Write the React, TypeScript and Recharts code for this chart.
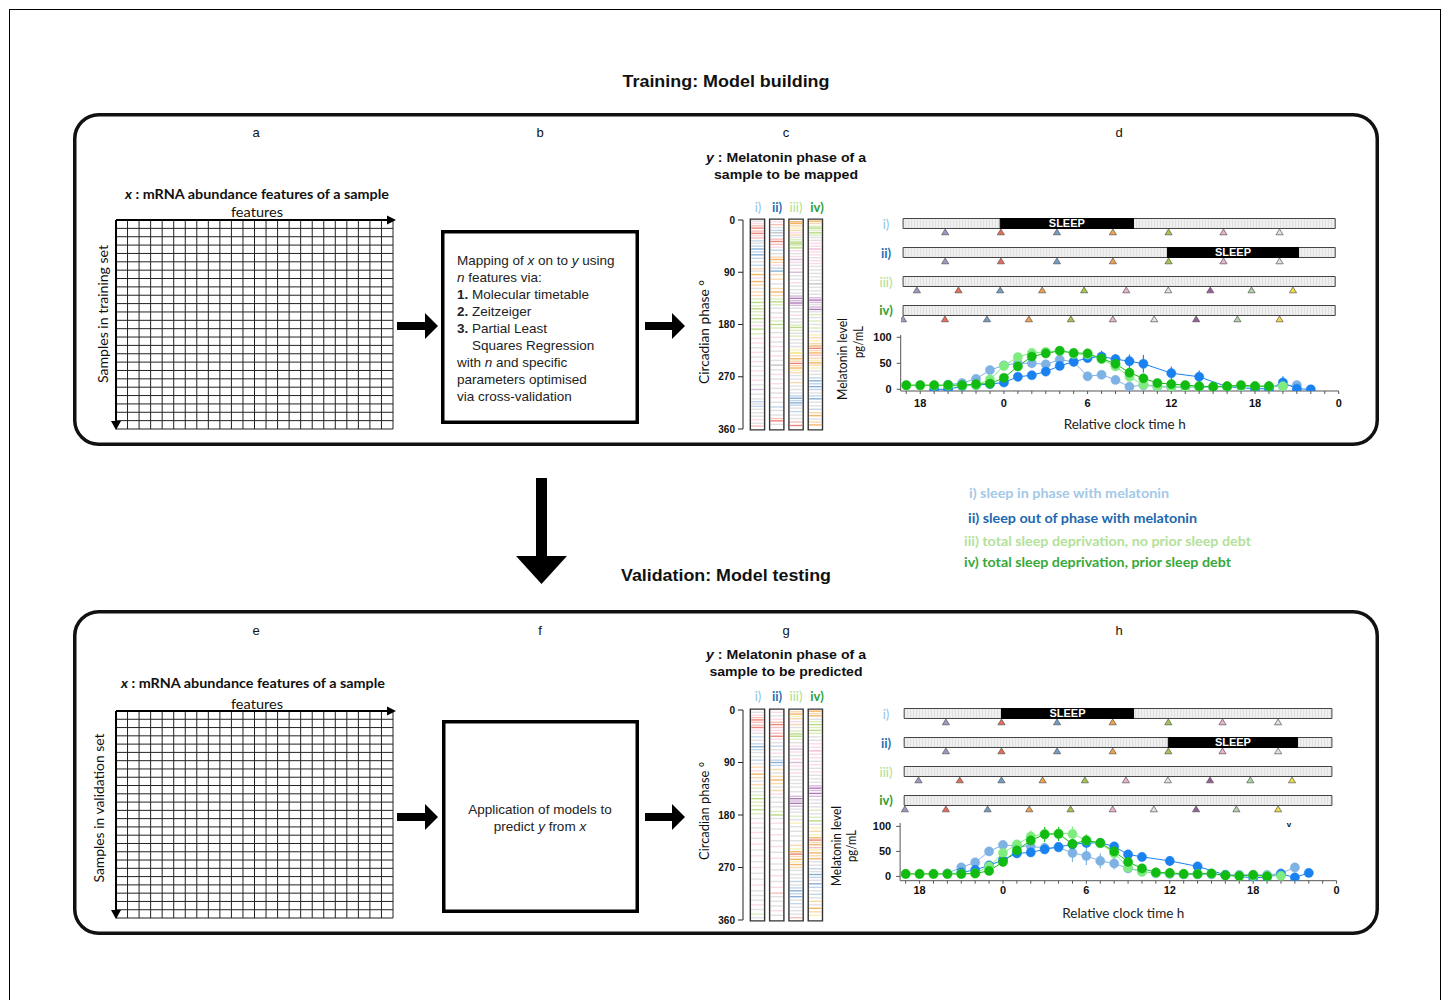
import React from 'react';
import { ComposedChart, Line, XAxis, YAxis, ErrorBar, Scatter, ReferenceArea, ReferenceLine, Label } from 'recharts';

const SANS = '"Liberation Sans", Arial, Helvetica, sans-serif';
const CAL = 'Lato, "Open Sans", sans-serif';

// ---------------- melatonin profiles (relative clock time, h) ----------------
const hourTicks = [-7, -6, -5, -4, -3, -2, -1, 0, 1, 2, 3, 4, 5, 6, 7, 8, 9, 10, 11, 12, 13, 14, 15, 16, 17, 18, 19, 20, 21, 22, 23, 24];
const profileHours = [-7, -6, -5, -4, -3, -2, -1, 0, 1, 2, 3, 4, 5, 6, 7, 8, 9, 10, 11, 12, 13, 14, 15, 16, 17, 18, 19, 20, 21, 22];
const melTicks = [0, 50, 100];

// training (d)
const dInPhase = [null, null, null, 9, 12, 20, 37, 46, 50, 50, 48, 57, 53, 25, 28, 18, 5, 8, 5, 4, 4, 4, 4, 5, 5, 5, 5, 6, 8, null];
const dInPhaseErr = [0, 0, 0, 3, 4, 4, 7, 5, 5, 6, 6, 6, 10, 6, 6, 4, 3, 3, 2, 2, 2, 2, 2, 2, 2, 2, 2, 3, 3, 0];
const dOutPhase = [null, null, 0, 0, 6, 8, 10, 13, 24, 27, 34, 45, 53, 60, 63, 58, 54, 49, null, 31, null, 24, null, 5, null, 1, 1, 13, 1, 0];
const dOutPhaseErr = [0, 0, 2, 2, 3, 3, 3, 4, 5, 6, 6, 6, 8, 8, 11, 10, 13, 17, 0, 13, 0, 12, 0, 3, 0, 2, 2, 12, 3, 2];
const dNoDebt = [7, 7, 7, 7, 7, 8, 19, 45, 62, 70, 72, 74, 68, 67, 58, 44, 24, 9, 6, 5, 5, 5, 5, 5, 6, 6, 6, 6, null, null];
const dNoDebtErr = [2, 2, 2, 2, 2, 2, 3, 4, 4, 4, 4, 4, 4, 4, 4, 4, 3, 2, 2, 2, 2, 2, 2, 2, 2, 2, 2, 2, 0, 0];
const dDebt = [8, 8, 8, 8, 8, 10, 11, 22, 44, 63, 69, 74, 70, 69, 59, 49, 32, 21, 12, 10, 8, 6, 5, 6, 8, 6, 6, null, null, null];
const dDebtErr = [2, 2, 2, 2, 2, 2, 3, 4, 5, 5, 5, 6, 5, 5, 6, 5, 4, 3, 2, 2, 2, 2, 2, 2, 2, 2, 2, 0, 0, 0];

// validation (h)
const hInPhase = [null, null, null, 6, 18, 28, 50, 63, 61, 60, 57, 58, 47, 41, 31, 26, 16, 10, 6, 5, 4, 4, 4, 3, 3, 3, 3, 6, 18, null];
const hInPhaseErr = [0, 0, 0, 3, 5, 5, 6, 6, 8, 8, 10, 10, 18, 18, 15, 12, 8, 5, 3, 2, 2, 2, 2, 2, 2, 2, 2, 4, 5, 0];
const hOutPhase = [null, null, null, null, 8, 13, 22, 33, 46, 48, 54, 59, 64, 67, 67, 60, 44, 39, null, 31, null, 20, null, 3, null, -3, -1, 5, -2, 7];
const hOutPhaseErr = [0, 0, 0, 0, 3, 4, 5, 6, 7, 7, 7, 8, 8, 8, 8, 8, 8, 8, 0, 10, 0, 7, 0, 3, 0, 3, 3, 3, 3, 3];
const hNoDebt = [5, 5, 5, 5, 5, 6, 20, 47, 64, 80, 85, 86, 85, 72, 66, 46, 18, 9, 7, 6, 5, 5, 5, 2, 1, 1, 1, 1, null, null];
const hNoDebtErr = [2, 2, 2, 2, 2, 2, 4, 5, 6, 12, 10, 10, 15, 8, 8, 6, 4, 3, 2, 2, 2, 2, 2, 2, 2, 2, 2, 2, 0, 0];
const hDebt = [5, 5, 5, 5, 5, 6, 11, 29, 52, 72, 84, 85, 65, 72, 67, 50, 29, 16, 8, 7, 5, 5, 6, 2, 1, 3, 0, null, null, null];
const hDebtErr = [2, 2, 2, 2, 2, 2, 3, 6, 8, 8, 15, 14, 8, 12, 10, 6, 4, 3, 2, 2, 2, 2, 2, 2, 2, 2, 2, 0, 0, 0];

const C_IN = '#7fb2e4';
const C_OUT = '#1a82f0';
const C_NODEBT = '#80ec80';
const C_DEBT = '#12bb12';

// ---------------- sleep / sampling schedules ----------------
const dRowSpan = [-7.25, 23.73];
const dSleepWindows = [[-0.29, 9.27], [11.7, 21.1], null, null];
const dSampleTimes = [
  [-4.23, -0.24, 3.78, 7.79, 11.78, 15.72, 19.74],
  [-4.23, -0.24, 3.78, 7.79, 11.78, 15.72, 19.74],
  [-6.26, -3.28, -0.29, 2.72, 5.73, 8.75, 11.76, 14.77, 17.73, 20.7],
  [-7.26, -4.25, -1.24, 1.77, 4.78, 7.79, 10.75, 13.76, 16.72, 19.74],
];
const hRowSpan = [-7.1, 23.67];
const hSleepWindows = [[-0.1, 9.4], [11.9, 21.2], null, null];
const hSampleTimes = [
  [-4.1, -0.1, 3.9, 7.9, 11.9, 15.8, 19.8],
  [-4.1, -0.1, 3.9, 7.9, 11.9, 15.8, 19.8],
  [-6.07, -3.1, -0.1, 2.86, 5.9, 8.85, 11.87, 14.9, 17.8, 20.8],
  [-7.05, -4.1, -1.1, 1.9, 4.87, 7.9, 10.86, 13.9, 16.8, 19.8],
];
const sampleColorKeys = [
  ['lav', 'red', 'blu', 'ora', 'grn', 'pnk', 'gry'],
  ['lav', 'red', 'blu', 'ora', 'grn', 'pnk', 'gry'],
  ['lav', 'red', 'blu', 'ora', 'grn', 'pnk', 'gry', 'pur', 'sag', 'yel'],
  ['lav', 'red', 'blu', 'ora', 'grn', 'pnk', 'gry', 'pur', 'sag', 'yel'],
];
const TRI_COLORS = {
  lav: '#9c97c4', red: '#ea6a58', blu: '#6f9dc8', ora: '#f4a24a', grn: '#a6c84a',
  pnk: '#eeb0d0', gry: '#e2e2e2', pur: '#9a5aa0', sag: '#b0d4a8', yel: '#f2dc40',
};

// ---------------- phase stripes (degrees) ----------------
const phaseTicks = [0, 90, 180, 270, 360];
const cStripesI = [[2,'k'],[6,'p'],[10,'r'],[14,'R'],[19,'r'],[23,'R'],[27,'p'],[31,'r'],[36,'b'],[40,'k'],[45,'b'],[50,'B'],[55,'b'],[60,'B'],[66,'b'],[72,'k'],[78,'b'],[84,'o'],[88,'k'],[94,'O'],[100,'p'],[106,'O'],[112,'o'],[118,'k'],[124,'o'],[130,'o'],[136,'g'],[142,'G'],[148,'g'],[153,'G'],[158,'g'],[164,'g'],[170,'G'],[176,'g'],[182,'p'],[188,'G'],[196,'g'],[204,'p'],[212,'p'],[220,'k'],[228,'p'],[236,'k'],[244,'p'],[252,'k'],[260,'p'],[268,'k'],[276,'p'],[284,'k'],[292,'u'],[300,'k'],[308,'k'],[313,'b'],[317,'k'],[321,'b'],[326,'k'],[332,'k'],[338,'k'],[344,'p'],[350,'k'],[355,'r']];
const cStripesII = [[3,'p'],[8,'r'],[13,'k'],[18,'b'],[22,'K'],[27,'b'],[33,'r'],[37,'R'],[42,'r'],[47,'p'],[52,'b'],[58,'k'],[64,'o'],[68,'O'],[73,'o'],[78,'p'],[83,'b'],[88,'B'],[94,'o'],[102,'o'],[110,'k'],[118,'o'],[124,'O'],[130,'o'],[136,'g'],[141,'G'],[146,'g'],[152,'k'],[160,'k'],[168,'p'],[174,'g'],[180,'G'],[186,'g'],[194,'k'],[202,'p'],[210,'k'],[218,'p'],[226,'k'],[234,'p'],[242,'k'],[250,'K'],[258,'k'],[266,'p'],[274,'k'],[282,'p'],[290,'k'],[298,'k'],[306,'p'],[314,'k'],[322,'b'],[328,'k'],[336,'k'],[342,'r'],[346,'R'],[352,'k']];
const cStripesIII = [[3,'O'],[6,'O'],[10,'o'],[14,'y'],[18,'o'],[22,'p'],[26,'o'],[30,'k'],[34,'g'],[38,'G'],[41,'G'],[44,'g'],[48,'G'],[53,'p'],[58,'k'],[63,'p'],[68,'u'],[73,'p'],[78,'k'],[84,'p'],[90,'u'],[96,'k'],[102,'k'],[108,'p'],[114,'k'],[120,'k'],[126,'k'],[131,'u'],[135,'U'],[139,'u'],[143,'U'],[147,'u'],[152,'k'],[158,'k'],[164,'p'],[170,'k'],[176,'k'],[181,'g'],[185,'G'],[190,'g'],[195,'k'],[200,'g'],[206,'k'],[212,'k'],[218,'k'],[224,'y'],[229,'Y'],[234,'o'],[239,'O'],[243,'o'],[247,'R'],[251,'o'],[255,'O'],[259,'y'],[263,'o'],[268,'k'],[274,'k'],[280,'o'],[286,'k'],[292,'k'],[298,'k'],[303,'b'],[307,'B'],[311,'b'],[315,'B'],[319,'b'],[324,'k'],[330,'b'],[336,'k'],[342,'k'],[348,'r'],[354,'R']];
const cStripesIV = [[2,'O'],[6,'o'],[11,'g'],[14,'G'],[18,'g'],[22,'G'],[26,'g'],[30,'k'],[35,'k'],[40,'p'],[45,'p'],[50,'P'],[55,'p'],[60,'p'],[65,'k'],[70,'p'],[75,'p'],[80,'k'],[86,'k'],[92,'k'],[98,'k'],[104,'k'],[110,'K'],[116,'k'],[122,'k'],[128,'k'],[134,'u'],[138,'U'],[142,'u'],[146,'k'],[150,'u'],[154,'U'],[158,'k'],[163,'g'],[168,'k'],[174,'g'],[180,'k'],[186,'g'],[192,'k'],[198,'y'],[203,'o'],[208,'y'],[213,'o'],[217,'O'],[221,'R'],[225,'o'],[229,'O'],[233,'r'],[238,'o'],[242,'y'],[246,'O'],[250,'o'],[255,'y'],[260,'k'],[266,'k'],[272,'b'],[277,'B'],[282,'b'],[287,'B'],[292,'b'],[298,'k'],[303,'b'],[308,'B'],[314,'k'],[320,'k'],[326,'b'],[332,'o'],[337,'O'],[343,'k'],[348,'o'],[353,'O']];

const gStripesI = [[4,'k'],[9,'p'],[13,'r'],[17,'R'],[21,'r'],[26,'r'],[30,'R'],[35,'p'],[40,'k'],[46,'b'],[52,'k'],[58,'b'],[63,'B'],[68,'b'],[73,'k'],[80,'k'],[86,'b'],[92,'k'],[98,'o'],[104,'p'],[110,'O'],[116,'o'],[122,'k'],[128,'o'],[134,'g'],[140,'k'],[146,'g'],[152,'G'],[158,'g'],[164,'g'],[171,'G'],[178,'g'],[186,'k'],[194,'p'],[202,'k'],[210,'p'],[220,'k'],[230,'p'],[240,'k'],[250,'p'],[260,'k'],[270,'p'],[280,'k'],[290,'k'],[300,'p'],[310,'k'],[318,'k'],[326,'k'],[334,'p'],[342,'k'],[350,'g'],[356,'k']];
const gStripesII = [[4,'p'],[10,'k'],[16,'p'],[21,'r'],[25,'R'],[30,'r'],[35,'p'],[40,'r'],[45,'R'],[50,'p'],[56,'k'],[62,'b'],[68,'k'],[74,'p'],[80,'k'],[86,'b'],[90,'B'],[95,'b'],[102,'o'],[108,'k'],[114,'o'],[120,'O'],[126,'o'],[132,'k'],[138,'o'],[144,'p'],[150,'k'],[158,'k'],[166,'k'],[174,'g'],[180,'G'],[186,'k'],[194,'p'],[204,'k'],[214,'p'],[224,'k'],[234,'p'],[244,'k'],[254,'p'],[264,'k'],[274,'k'],[284,'p'],[294,'k'],[304,'p'],[314,'r'],[320,'k'],[328,'k'],[336,'k'],[344,'p'],[352,'k']];
const gStripesIII = [[3,'o'],[7,'O'],[11,'y'],[15,'o'],[20,'p'],[25,'o'],[30,'k'],[36,'g'],[41,'G'],[45,'G'],[50,'g'],[56,'k'],[62,'p'],[67,'u'],[72,'p'],[78,'k'],[84,'p'],[90,'u'],[96,'p'],[102,'k'],[108,'p'],[114,'k'],[120,'k'],[126,'k'],[132,'k'],[140,'k'],[148,'u'],[152,'U'],[156,'u'],[160,'U'],[165,'u'],[170,'k'],[175,'k'],[182,'g'],[188,'k'],[194,'y'],[200,'k'],[208,'k'],[216,'k'],[224,'k'],[232,'o'],[238,'y'],[243,'O'],[247,'R'],[251,'o'],[256,'O'],[260,'y'],[265,'O'],[270,'o'],[275,'k'],[282,'k'],[288,'k'],[294,'b'],[300,'k'],[305,'b'],[310,'B'],[315,'b'],[320,'B'],[326,'k'],[332,'b'],[338,'k'],[344,'k'],[350,'k'],[356,'r']];
const gStripesIV = [[2,'O'],[6,'o'],[10,'O'],[16,'k'],[20,'g'],[25,'G'],[30,'g'],[35,'G'],[40,'g'],[46,'k'],[52,'k'],[58,'p'],[64,'p'],[70,'P'],[76,'p'],[82,'p'],[88,'k'],[94,'p'],[100,'k'],[106,'p'],[112,'k'],[118,'k'],[124,'k'],[130,'u'],[134,'U'],[138,'u'],[143,'U'],[148,'u'],[154,'k'],[160,'k'],[166,'k'],[172,'g'],[178,'k'],[184,'g'],[190,'G'],[196,'k'],[202,'y'],[208,'o'],[214,'y'],[219,'O'],[223,'R'],[227,'o'],[231,'O'],[236,'r'],[240,'y'],[245,'O'],[250,'o'],[255,'O'],[260,'k'],[266,'k'],[272,'b'],[277,'k'],[282,'B'],[287,'b'],[292,'k'],[298,'B'],[304,'b'],[310,'k'],[316,'b'],[322,'k'],[328,'o'],[334,'k'],[340,'O'],[346,'o'],[352,'y']];

const STRIPE_COLORS = {
  r: '#e8675a', o: '#f4a340', b: '#6a9ccc', g: '#a6d264', p: '#f2a6c8', u: '#9a5aa8', k: '#b4b4bc', y: '#f2dc50',
};

// ---------------- feature matrix ----------------
const FEATURE_COUNT = 24;
const SAMPLE_COUNT = 25;
const featureTicks = Array.from({ length: FEATURE_COUNT + 1 }, (_, i) => i);
const sampleTicks = Array.from({ length: SAMPLE_COUNT + 1 }, (_, i) => i);

// ---------------- legend ----------------
const legendItems = [
  { label: 'i) sleep in phase with melatonin', color: '#a4c9e6', len: 200, x: 969, y: 493 },
  { label: 'ii) sleep out of phase with melatonin', color: '#2068b0', len: 229, x: 968, y: 518 },
  { label: 'iii) total sleep deprivation, no prior sleep debt', color: '#b3e19a', len: 287, x: 964, y: 541 },
  { label: 'iv) total sleep deprivation, prior sleep debt', color: '#37a83a', len: 267, x: 964, y: 562 },
];

function buildSeries(vals, errs) {
  const out = [];
  profileHours.forEach((h, i) => {
    if (vals[i] !== null && vals[i] !== undefined) out.push({ h, v: vals[i], e: errs[i] });
  });
  return out;
}

const hourFmt = (v) => (v % 6 === 0 ? String(((v % 24) + 24) % 24) : '');

function MelChart({ left, top, plotW, plotH, yAxisW, yDomain, series, tickMargin, labelOffset }) {
  const mt = 10, mr = 12, xh = 40;
  return (
    <div style={{ position: 'absolute', left, top }}>
      <ComposedChart width={yAxisW + plotW + mr} height={mt + plotH + xh} margin={{ top: mt, right: mr, bottom: 0, left: 0 }}>
        <XAxis
          type="number" dataKey="h" domain={[-7.4, 24]} allowDataOverflow ticks={hourTicks} interval={0}
          tickFormatter={hourFmt} height={xh} tickSize={3} tickMargin={tickMargin}
          axisLine={{ stroke: '#555' }} tickLine={{ stroke: '#555' }}
          tick={{ fontSize: 11, fontWeight: 700, fill: '#111', fontFamily: SANS }}
        >
          <Label value="Relative clock time h" position="insideBottom" offset={labelOffset} dx={5}
            style={{ fontSize: 13.5, fontFamily: CAL, fill: '#222' }} />
        </XAxis>
        <YAxis
          type="number" dataKey="v" domain={yDomain} allowDataOverflow ticks={melTicks} interval={0} width={yAxisW}
          tickSize={4} tickMargin={5} axisLine={{ stroke: '#555' }} tickLine={{ stroke: '#555' }}
          tick={{ fontSize: 11, fontWeight: 700, fill: '#111', fontFamily: SANS }}
        />
        {series.map((s) => (
          <Line key={s.name} name={s.name} data={s.data} dataKey="v" stroke={s.color} strokeWidth={1}
            dot={{ r: 4.6, fill: s.color, stroke: s.color, strokeWidth: 0.5 }} activeDot={false}
            isAnimationActive={false}>
            <ErrorBar dataKey="e" width={0} stroke={s.color} strokeWidth={1.2} direction="y" />
          </Line>
        ))}
      </ComposedChart>
    </div>
  );
}

const BAR_HALF = 0.172;
const TRI_OFF = 0.3;

function Tri(props) {
  const { cx, cy, payload } = props;
  if (cx == null || cy == null) return null;
  const c = TRI_COLORS[payload.k];
  return <polygon points={`${cx - 3.6},${cy + 2.6} ${cx + 3.6},${cy + 2.6} ${cx},${cy - 3.2}`} fill={c} stroke="#555" strokeWidth={0.7} />;
}

function ScheduleRows({ id, left, top, plotW, span, sleeps, times }) {
  const pts = [];
  times.forEach((row, r) => row.forEach((h, j) => pts.push({ h, y: r + 0.5 + TRI_OFF, k: sampleColorKeys[r][j] })));
  const pid = 'barHatch' + id;
  return (
    <div style={{ position: 'absolute', left: left - 5, top }}>
      <ComposedChart width={plotW + 10} height={116} margin={{ top: 0, right: 5, bottom: 0, left: 5 }}>
        <defs>
          <pattern id={pid} width={3} height={4} patternUnits="userSpaceOnUse">
            <rect width={3} height={4} fill="#efefef" />
            <line x1={0.5} y1={0} x2={0.5} y2={4} stroke="#e0e0e0" strokeWidth={1} />
          </pattern>
        </defs>
        <XAxis type="number" dataKey="h" domain={[-7.4, 24]} allowDataOverflow hide />
        <YAxis type="number" dataKey="y" domain={[0, 4]} allowDataOverflow reversed hide />
        {[0, 1, 2, 3].map((r) => (
          <ReferenceArea key={'bar' + r} x1={span[0]} x2={span[1]} y1={r + 0.5 - BAR_HALF} y2={r + 0.5 + BAR_HALF}
            fill={`url(#${pid})`} fillOpacity={1} stroke="#444" strokeWidth={1} ifOverflow="visible" />
        ))}
        {sleeps.map((s, r) => s && (
          <ReferenceArea key={'sl' + r} x1={s[0]} x2={s[1]} y1={r + 0.5 - BAR_HALF} y2={r + 0.5 + BAR_HALF}
            fill="#000" fillOpacity={1} stroke="#000" strokeWidth={1} ifOverflow="visible"
            label={{ value: 'SLEEP', position: 'center', fill: '#fff', fontSize: 11, fontWeight: 700, fontFamily: SANS }} />
        ))}
        <Scatter data={pts} dataKey="y" shape={Tri} isAnimationActive={false} />
      </ComposedChart>
    </div>
  );
}

function Stripe(props) {
  const { cx, cy, payload } = props;
  if (cx == null || cy == null) return null;
  const key = payload.k;
  const col = STRIPE_COLORS[key.toLowerCase()];
  const strong = key !== key.toLowerCase();
  return <line x1={cx - 6.3} x2={cx + 6.3} y1={cy} y2={cy} stroke={col} strokeOpacity={strong ? 0.8 : 0.42} strokeWidth={1.4} />;
}

function StripePanel({ left, top, plotH, columns }) {
  const pts = [];
  columns.forEach((col, ci) => col.forEach(([p, k]) => pts.push({ c: ci + 1, p, k })));
  const yw = 35;
  return (
    <div style={{ position: 'absolute', left: left - yw, top: top - 5 }}>
      <ComposedChart width={yw + 82 + 5} height={plotH + 10} margin={{ top: 5, right: 5, bottom: 5, left: 0 }}>
        <XAxis type="number" dataKey="c" domain={[0.25, 4.5]} allowDataOverflow hide />
        <YAxis type="number" dataKey="p" domain={[0, 360]} reversed allowDataOverflow ticks={phaseTicks} interval={0}
          width={yw} tickSize={5} tickMargin={3} axisLine={{ stroke: '#222' }} tickLine={{ stroke: '#222' }}
          tick={{ fontSize: 10, fontWeight: 700, fill: '#111', fontFamily: SANS }} />
        <Scatter data={pts} dataKey="p" shape={Stripe} isAnimationActive={false} />
        {[1, 2, 3, 4].map((c) => (
          <ReferenceArea key={'f' + c} x1={c - 0.37} x2={c + 0.37} y1={-1.5} y2={361.5} fill="none" stroke="#333"
            strokeWidth={1.4} ifOverflow="visible" />
        ))}
      </ComposedChart>
    </div>
  );
}

function FeatureGrid({ left, top, width, height }) {
  return (
    <div style={{ position: 'absolute', left: left - 1, top: top - 1 }}>
      <ComposedChart width={width + 2} height={height + 2} margin={{ top: 1, right: 1, bottom: 1, left: 1 }}>
        <XAxis type="number" dataKey="f" domain={[0, FEATURE_COUNT]} allowDataOverflow hide />
        <YAxis type="number" dataKey="s" domain={[0, SAMPLE_COUNT]} allowDataOverflow hide />
        {featureTicks.map((f) => (
          <ReferenceLine key={'v' + f} x={f} stroke="#222" strokeWidth={1} ifOverflow="visible" />
        ))}
        {sampleTicks.map((s) => (
          <ReferenceLine key={'h' + s} y={s} stroke="#222" strokeWidth={1} ifOverflow="visible" />
        ))}
      </ComposedChart>
    </div>
  );
}

function T({ x, y, children, size = 13, weight = 'normal', anchor = 'middle', family = SANS, fill = '#111', len, rotate, italic }) {
  return (
    <text x={x} y={y} fontSize={size} fontWeight={weight} textAnchor={anchor} fontFamily={family} fill={fill}
      fontStyle={italic ? 'italic' : 'normal'} dominantBaseline="central"
      textLength={len} lengthAdjust={len ? 'spacingAndGlyphs' : undefined}
      transform={rotate ? `rotate(${rotate} ${x} ${y})` : undefined}>
      {children}
    </text>
  );
}

const ROW_LABELS = [
  { t: 'i)', c: '#8fc3e6', w: 'normal' },
  { t: 'ii)', c: '#1f6fb5', w: 'bold' },
  { t: 'iii)', c: '#a9e08f', w: 'normal' },
  { t: 'iv)', c: '#2e9e34', w: 'bold' },
];
const COL_X = [758, 777, 796, 817];

function Overlay() {
  const boxB = [
    [<tspan key="a">Mapping of </tspan>, <tspan key="b" fontStyle="italic">x</tspan>, <tspan key="c"> on to </tspan>, <tspan key="d" fontStyle="italic">y</tspan>, <tspan key="e"> using</tspan>],
    [<tspan key="a" fontStyle="italic">n</tspan>, <tspan key="b"> features via:</tspan>],
    [<tspan key="a" fontWeight="bold">1.</tspan>, <tspan key="b"> Molecular timetable</tspan>],
    [<tspan key="a" fontWeight="bold">2.</tspan>, <tspan key="b"> Zeitzeiger</tspan>],
    [<tspan key="a" fontWeight="bold">3.</tspan>, <tspan key="b"> Partial Least</tspan>],
    null,
    [<tspan key="a">with </tspan>, <tspan key="b" fontStyle="italic">n</tspan>, <tspan key="c"> and specific</tspan>],
    [<tspan key="a">parameters optimised</tspan>],
    [<tspan key="a">via cross-validation</tspan>],
  ];
  return (
    <svg width={1447} height={1000} style={{ position: 'absolute', left: 0, top: 0, pointerEvents: 'none' }}>
      <rect x={9.5} y={9.5} width={1431} height={1000} fill="none" stroke="#000" strokeWidth={1} />
      <T x={726} y={81} size={17} weight="bold" len={207}>Training: Model building</T>
      <T x={726} y={575} size={17} weight="bold" len={210}>Validation: Model testing</T>
      <rect x={74.75} y={114.75} width={1302.5} height={329.5} rx={24} fill="none" stroke="#111" strokeWidth={3.5} />
      <rect x={74.75} y={611.75} width={1302.5} height={321.5} rx={24} fill="none" stroke="#111" strokeWidth={3.5} />
      {[['a', 256, 132], ['b', 540, 132], ['c', 786, 132], ['d', 1119, 132], ['e', 256, 630], ['f', 540, 630], ['g', 786, 630], ['h', 1119, 630]].map(([l, x, y]) => (
        <T key={l} x={x} y={y} size={13}>{l}</T>
      ))}

      {/* feature matrix labels and arrows */}
      {[[220, 429, 194, 212, 257, 'Samples in training set', 102, 314, 138], [711, 918, 683, 704, 253, 'Samples in validation set', 98, 808, 149]].map(([gt, gb, ty, fy, tx, side, sx, sy, sl], i) => (
        <g key={'g' + i}>
          <text x={tx} y={ty} fontSize={13} fontWeight="bold" fontFamily={CAL} textAnchor="middle" dominantBaseline="central" textLength={264} lengthAdjust="spacingAndGlyphs" fill="#111">
            <tspan fontStyle="italic">x</tspan> : mRNA abundance features of a sample
          </text>
          <T x={257} y={fy} size={13} family={CAL} len={52}>features</T>
          <T x={sx} y={sy} size={14} family={CAL} len={sl} rotate={-90}>{side}</T>
          <line x1={116} y1={gt} x2={388} y2={gt} stroke="#000" strokeWidth={2} />
          <polygon points={`387,${gt - 4.5} 396,${gt} 387,${gt + 4.5}`} fill="#000" />
          <line x1={116} y1={gt} x2={116} y2={gb - 6} stroke="#000" strokeWidth={2} />
          <polygon points={`111,${gb - 8} 116,${gb + 1} 121,${gb - 8}`} fill="#000" />
        </g>
      ))}

      {/* method boxes */}
      <rect x={442.75} y={231.75} width={194.5} height={190.5} fill="none" stroke="#000" strokeWidth={3.5} />
      {boxB.map((line, i) => line && (
        <text key={'bb' + i} x={457} y={260 + i * 17} fontSize={13.5} fontFamily={SANS} fill="#222" dominantBaseline="central">{line}</text>
      ))}
      <text x={472} y={345} fontSize={13.5} fontFamily={SANS} fill="#222" dominantBaseline="central">Squares Regression</text>
      <rect x={443.75} y={721.75} width={193.5} height={189.5} fill="none" stroke="#000" strokeWidth={3.5} />
      <T x={540} y={809} size={13.5} fill="#222">Application of models to</T>
      <text x={540} y={826} fontSize={13.5} fontFamily={SANS} fill="#222" textAnchor="middle" dominantBaseline="central">
        predict <tspan fontStyle="italic">y</tspan> from <tspan fontStyle="italic">x</tspan>
      </text>

      {/* flow arrows */}
      {[326, 817].map((cy) => (
        <g key={'ar' + cy}>
          <rect x={397} y={cy - 4} width={29} height={8} fill="#000" />
          <polygon points={`425,${cy - 13} 438,${cy} 425,${cy + 13}`} fill="#000" />
          <rect x={645} y={cy - 4} width={28} height={8} fill="#000" />
          <polygon points={`672,${cy - 13} 685,${cy} 672,${cy + 13}`} fill="#000" />
        </g>
      ))}
      <rect x={536} y={478} width={11} height={78} fill="#000" />
      <polygon points="516,556 567,556 541.5,584" fill="#000" />

      {/* phase panel labels */}
      {[[157, 174, 'sample to be mapped', 144, 207, 332, 104], [654, 671, 'sample to be predicted', 153, 696, 811, 98]].map(([y1, y2, l2, len2, cy, py, pl], i) => (
        <g key={'ph' + i}>
          <text x={786} y={y1} fontSize={13} fontWeight="bold" fontFamily={SANS} textAnchor="middle" dominantBaseline="central" textLength={160} lengthAdjust="spacingAndGlyphs" fill="#111">
            <tspan fontStyle="italic">y</tspan> : Melatonin phase of a
          </text>
          <T x={786} y={y2} size={13} weight="bold" len={len2}>{l2}</T>
          {ROW_LABELS.map((r, j) => (
            <T key={r.t} x={COL_X[j]} y={cy} size={13} family={CAL} weight={r.w} fill={r.c}>{r.t}</T>
          ))}
          <T x={703} y={py} size={14} family={CAL} len={pl} rotate={-90}>Circadian phase °</T>
        </g>
      ))}
      <T x={842} y={359} size={13} family={CAL} len={82} rotate={-90}>Melatonin level</T>
      <T x={858} y={342} size={13} family={CAL} len={32} rotate={-90}>pg/mL</T>
      <T x={836} y={846} size={13} family={CAL} len={80} rotate={-90}>Melatonin level</T>
      <T x={851} y={846} size={13} family={CAL} len={32} rotate={-90}>pg/mL</T>

      {/* schedule row labels */}
      {[[224, 253, 282, 310], [714, 743, 772, 800]].map((ys, i) => ROW_LABELS.map((r, j) => (
        <T key={'rl' + i + j} x={886} y={ys[j]} size={13} family={CAL} weight={r.w} fill={r.c}>{r.t}</T>
      )))}
      <T x={1289} y={824} size={8} weight="bold">v</T>

      {/* legend */}
      {legendItems.map((it) => (
        <T key={it.label} x={it.x} y={it.y} size={13} family={CAL} weight="bold" anchor="start" fill={it.color} len={it.len}>{it.label}</T>
      ))}
    </svg>
  );
}

export default function App() {
  const dSeries = [
    { name: 'i', color: C_IN, data: buildSeries(dInPhase, dInPhaseErr) },
    { name: 'ii', color: C_OUT, data: buildSeries(dOutPhase, dOutPhaseErr) },
    { name: 'iii', color: C_NODEBT, data: buildSeries(dNoDebt, dNoDebtErr) },
    { name: 'iv', color: C_DEBT, data: buildSeries(dDebt, dDebtErr) },
  ];
  const hSeries = [
    { name: 'i', color: C_IN, data: buildSeries(hInPhase, hInPhaseErr) },
    { name: 'ii', color: C_OUT, data: buildSeries(hOutPhase, hOutPhaseErr) },
    { name: 'iii', color: C_NODEBT, data: buildSeries(hNoDebt, hNoDebtErr) },
    { name: 'iv', color: C_DEBT, data: buildSeries(hDebt, hDebtErr) },
  ];
  return (
    <div style={{ position: 'absolute', left: 0, top: 0, width: 1447, height: 1000, background: '#fff', overflow: 'hidden' }}>
      <FeatureGrid left={116} top={220} width={277} height={209} />
      <FeatureGrid left={116} top={711} width={277} height={207} />
      <StripePanel left={743.3} top={220} plotH={209} columns={[cStripesI, cStripesII, cStripesIII, cStripesIV]} />
      <StripePanel left={743.3} top={710} plotH={210} columns={[gStripesI, gStripesII, gStripesIII, gStripesIV]} />
      <ScheduleRows id="d" left={900.7} top={208.8} plotW={438} span={dRowSpan} sleeps={dSleepWindows} times={dSampleTimes} />
      <ScheduleRows id="h" left={900.1} top={699.2} plotW={436.5} span={hRowSpan} sleeps={hSleepWindows} times={hSampleTimes} />
      <MelChart left={860} top={325} plotW={438} plotH={56} yAxisW={40.7} yDomain={[-3.3, 104.4]} series={dSeries} tickMargin={5} labelOffset={2} />
      <MelChart left={860} top={813.3} plotW={436.5} plotH={57.7} yAxisW={40.1} yDomain={[-8.6, 106.8]} series={hSeries} tickMargin={2} labelOffset={3} />
      <Overlay />
    </div>
  );
}
